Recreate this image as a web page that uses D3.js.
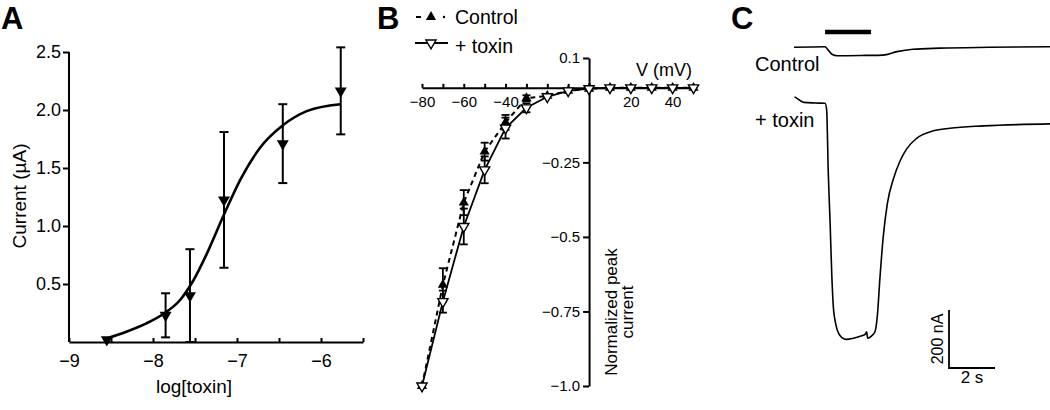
<!DOCTYPE html>
<html><head><meta charset="utf-8">
<script src="https://cdn.jsdelivr.net/npm/d3@7"></script>
<style>
body{margin:0;background:#fff;}
svg{display:block;font-family:"Liberation Sans",Arial,Helvetica,sans-serif;}
</style></head><body>
<svg id="fig" width="1050" height="410"></svg>
<script>
// ---------- Panel A data ----------
const aLogToxin = [-8.55, -7.85, -7.56, -7.155, -6.455, -5.765];
const aCurrent  = [0.02, 0.23, 0.40, 1.225, 1.71, 2.165];
const aSem      = [0, 0.19, 0.40, 0.585, 0.34, 0.375];
const aFitLog     = [-8.55, -8.31, -8.08, -7.86, -7.68, -7.52, -7.36, -7.16, -6.96, -6.73, -6.45, -6.17, -5.77];
const aFitCurrent = [0.03, 0.09, 0.16, 0.25, 0.36, 0.53, 0.76, 1.09, 1.40, 1.67, 1.87, 1.99, 2.05];
const aXTicks  = [-9, -8.5, -8, -7.5, -7, -6.5, -6, -5.5];
const aXLabels = [-9, -8, -7, -6];
const aYTicks  = [0.5, 1.0, 1.5, 2.0, 2.5];

// ---------- Panel B data ----------
const bVoltage    = [-80, -70, -60, -50, -40, -30, -20, -10, 0, 10, 20, 30, 40, 50];
const bControl    = [-1.0, -0.661, -0.385, -0.214, -0.116, -0.035, -0.027, -0.01, -0.003, 0, 0, 0, 0, 0];
const bControlSem = [0, 0.056, 0.042, 0.03, 0.025, 0.01, 0, 0, 0, 0, 0, 0, 0, 0];
const bToxin      = [-1.0, -0.717, -0.465, -0.275, -0.135, -0.067, -0.03, -0.01, -0.003, 0, 0, 0, 0, 0];
const bToxinSem   = [0, 0.037, 0.06, 0.045, 0.035, 0.015, 0, 0, 0, 0, 0, 0, 0, 0];
const bXTicks  = [-80, -70, -60, -50, -40, -30, -20, -10, 0, 10, 20, 30, 40, 50];
const bXLabels = [-80, -60, -40, 20, 40];
const bYTicks      = [0.1, -0.25, -0.5, -0.75, -1.0];
const bYTickLabels = ["0.1", "\u22120.25", "\u22120.5", "\u22120.75", "\u22121.0"];

// ---------- Panel C data (time s, current nA) ----------
const cControlT = [0, 1.35, 1.48, 1.65, 1.87, 3.09, 3.87, 4.48, 5.17, 6.35, 8.5, 11.13];
const cControlI = [-1, 1, -10, -25, -30, -29, -28, -16, -8, -4, -1, 1];
const cToxinT = [0.02, 0.13, 0.26, 0.43, 0.91, 1.35, 1.42, 1.49, 1.57, 1.64, 1.71, 1.78, 1.88, 2.07, 2.29, 2.58, 2.94, 3.09, 3.16, 3.20, 3.38, 3.52, 3.62, 3.74, 3.88, 4.06, 4.32, 4.61, 4.90, 5.33, 6.06, 6.78, 8.23, 11.13];
const cToxinI = [21, 16, 9, 2, 0, -1, -24, -241, -414, -586, -703, -748, -783, -808, -815, -811, -803, -798, -789, -811, -803, -789, -737, -599, -461, -346, -262, -200, -158, -122, -96, -87, -79, -72];
const cStim = [1.35, 3.35];
const cScaleCurrent = 200; // nA
const cScaleTime = 2;      // s

const svg = d3.select("#fig");
const FONT = "Liberation Sans, Arial, sans-serif";

function styleAxis(g, fs) {
  g.selectAll("path.domain").attr("stroke", "#000").attr("stroke-width", 2);
  g.selectAll(".tick line").attr("stroke", "#000").attr("stroke-width", 2);
  g.selectAll(".tick text").attr("fill", "#000").attr("font-size", fs).attr("font-family", FONT);
  g.attr("font-size", null).attr("font-family", null);
}

// Panel letters
[["A", 1, 29], ["B", 377, 29], ["C", 731, 29]].forEach(([t, x, y]) => {
  svg.append("text").attr("x", x).attr("y", y).attr("font-size", 31).attr("font-weight", "bold").text(t);
});

// ================= Panel A =================
const xA = d3.scaleLinear().domain([-9, -5.5]).range([69, 363]);
const yA = d3.scaleLinear().domain([0, 2.5]).range([342, 52]);
const gA = svg.append("g");

gA.append("g").attr("transform", `translate(0,${yA(0)})`)
  .call(d3.axisBottom(xA).tickValues(aXTicks).tickSizeInner(-4).tickSizeOuter(0).tickPadding(12)
    .tickFormat(d => aXLabels.includes(d) ? d3.format("d")(d) : ""))
  .call(g => styleAxis(g, 18));

gA.append("g").attr("transform", `translate(${xA(-9)},0)`)
  .call(d3.axisLeft(yA).tickValues(aYTicks).tickSizeInner(6).tickSizeOuter(0).tickPadding(2)
    .tickFormat(d3.format(".1f")))
  .call(g => styleAxis(g, 18))
  .call(g => g.select("path.domain").attr("d", `M0,${yA(0)}V${yA(2.5)}`));

gA.append("text").attr("x", 194).attr("y", 393).attr("text-anchor", "middle").attr("font-size", 19).text("log[toxin]");
gA.append("text").attr("transform", "translate(26,196) rotate(-90)").attr("text-anchor", "middle").attr("font-size", 19).text("Current (\u00b5A)");

const aFit = aFitLog.map((v, i) => [v, aFitCurrent[i]]);
gA.append("path").datum(aFit)
  .attr("d", d3.line().x(d => xA(d[0])).y(d => yA(d[1])).curve(d3.curveMonotoneX))
  .attr("fill", "none").attr("stroke", "#000").attr("stroke-width", 2.6);

aLogToxin.forEach((v, i) => {
  const x = xA(v), s = aSem[i];
  if (s > 0) {
    const y1 = yA(aCurrent[i] + s), y2 = yA(Math.max(0, aCurrent[i] - s));
    gA.append("line").attr("x1", x).attr("x2", x).attr("y1", y1).attr("y2", y2).attr("stroke", "#000").attr("stroke-width", 2);
    [y1, y2].forEach(y => gA.append("line").attr("x1", x - 4.5).attr("x2", x + 4.5).attr("y1", y).attr("y2", y).attr("stroke", "#000").attr("stroke-width", 2));
  }
});
gA.selectAll("path.mk").data(aLogToxin).join("path").attr("class", "mk")
  .attr("d", d3.symbol(d3.symbolTriangle, 62))
  .attr("transform", (d, i) => `translate(${xA(d)},${yA(aCurrent[i])}) rotate(180)`)
  .attr("fill", "#000");

// ================= Panel B =================
const xB = d3.scaleLinear().domain([-80, 50]).range([422, 693.5]);
const yB = d3.scaleLinear().domain([-1, 0.1]).range([386, 58]);
const gB = svg.append("g");

gB.append("g").attr("transform", `translate(0,${yB(0)})`)
  .call(d3.axisBottom(xB).tickValues(bXTicks).tickSizeInner(-4).tickSizeOuter(0).tickPadding(9)
    .tickFormat(d => bXLabels.includes(d) ? d3.format("d")(d) : ""))
  .call(g => styleAxis(g, 15));

gB.append("g").attr("transform", `translate(${xB(0)},0)`)
  .call(d3.axisLeft(yB).tickValues(bYTicks).tickSizeInner(6).tickSizeOuter(0).tickPadding(3)
    .tickFormat((d, i) => bYTickLabels[i]))
  .call(g => styleAxis(g, 15));

gB.append("text").attr("x", 664).attr("y", 76).attr("text-anchor", "middle").attr("font-size", 18).text("V (mV)");
const yl = gB.append("text").attr("transform", "translate(617,312) rotate(-90)").attr("text-anchor", "middle").attr("font-size", 17);
yl.append("tspan").attr("x", 0).attr("dy", 0).text("Normalized peak");
yl.append("tspan").attr("x", 0).attr("dy", 16).text("current");

const lineB = d3.line().x(d => xB(d[0])).y(d => yB(d[1]));
const ctrlPts = bVoltage.map((v, i) => [v, bControl[i]]);
const toxPts = bVoltage.map((v, i) => [v, bToxin[i]]);

function errBars(g, vals, sems) {
  bVoltage.forEach((v, i) => {
    const s = sems[i]; if (!(s > 0)) return;
    const x = xB(v), y1 = yB(vals[i] + s), y2 = yB(vals[i] - s);
    g.append("line").attr("x1", x).attr("x2", x).attr("y1", y1).attr("y2", y2).attr("stroke", "#000").attr("stroke-width", 1.8);
    [y1, y2].forEach(y => g.append("line").attr("x1", x - 4).attr("x2", x + 4).attr("y1", y).attr("y2", y).attr("stroke", "#000").attr("stroke-width", 1.8));
  });
}
errBars(gB, bControl, bControlSem);
errBars(gB, bToxin, bToxinSem);

gB.append("path").datum(ctrlPts).attr("d", lineB).attr("fill", "none").attr("stroke", "#000")
  .attr("stroke-width", 2).attr("stroke-dasharray", "5,4");
gB.append("path").datum(toxPts).attr("d", lineB).attr("fill", "none").attr("stroke", "#000").attr("stroke-width", 1.8);

gB.selectAll("path.ctrl").data(ctrlPts).join("path").attr("class", "ctrl")
  .attr("d", d3.symbol(d3.symbolTriangle, 45))
  .attr("transform", d => `translate(${xB(d[0])},${yB(d[1])})`).attr("fill", "#000");
gB.selectAll("path.tox").data(toxPts).join("path").attr("class", "tox")
  .attr("d", d3.symbol(d3.symbolTriangle, 45))
  .attr("transform", d => `translate(${xB(d[0])},${yB(d[1])}) rotate(180)`)
  .attr("fill", "#fff").attr("stroke", "#000").attr("stroke-width", 1.4);

// legend
const lg = gB.append("g");
lg.append("line").attr("x1", 416).attr("x2", 421).attr("y1", 17).attr("y2", 17).attr("stroke", "#000").attr("stroke-width", 2);
lg.append("path").attr("d", d3.symbol(d3.symbolTriangle, 45)).attr("transform", "translate(431,17)").attr("fill", "#000");
lg.append("circle").attr("cx", 444).attr("cy", 17).attr("r", 1.2).attr("fill", "#000");
lg.append("text").attr("x", 455).attr("y", 24).attr("font-size", 19.5).text("Control");
lg.append("line").attr("x1", 415).attr("x2", 448).attr("y1", 43).attr("y2", 43).attr("stroke", "#000").attr("stroke-width", 1.8);
lg.append("path").attr("d", d3.symbol(d3.symbolTriangle, 45)).attr("transform", "translate(431,43) rotate(180)")
  .attr("fill", "#fff").attr("stroke", "#000").attr("stroke-width", 1.4);
lg.append("text").attr("x", 455).attr("y", 53).attr("font-size", 19.5).text("+ toxin");

// ================= Panel C =================
const xC = d3.scaleLinear().domain([0, 11.13]).range([794, 1050]);
const yCtrl = d3.scaleLinear().domain([0, -200]).range([47, 105]);
const yTox = d3.scaleLinear().domain([0, -200]).range([103, 161]);
const gC = svg.append("g");

gC.append("line").attr("x1", xC(cStim[0])).attr("x2", xC(cStim[1])).attr("y1", 32).attr("y2", 32)
  .attr("stroke", "#000").attr("stroke-width", 4.5);

gC.append("path").datum(cControlT.map((t, i) => [t, cControlI[i]]))
  .attr("d", d3.line().x(d => xC(d[0])).y(d => yCtrl(d[1])).curve(d3.curveMonotoneX))
  .attr("fill", "none").attr("stroke", "#000").attr("stroke-width", 1.6);
gC.append("path").datum(cToxinT.map((t, i) => [t, cToxinI[i]]))
  .attr("d", d3.line().x(d => xC(d[0])).y(d => yTox(d[1])).curve(d3.curveMonotoneX))
  .attr("fill", "none").attr("stroke", "#000").attr("stroke-width", 1.6);

gC.append("text").attr("x", 755).attr("y", 71).attr("font-size", 20).text("Control");
gC.append("text").attr("x", 755).attr("y", 127).attr("font-size", 20).text("+ toxin");

// scale bar
const sbX = 949, sbY = 368;
const sbH = yTox(0) - yTox(-cScaleCurrent);
const sbW = xC(cScaleTime) - xC(0);
gC.append("path").attr("d", `M${sbX},${sbY + sbH}V${sbY}H${sbX + sbW}`)
  .attr("fill", "none").attr("stroke", "#000").attr("stroke-width", 1.8);
gC.append("text").attr("transform", `translate(943,${sbY + sbH / 2}) rotate(-90)`).attr("text-anchor", "middle").attr("font-size", 16).text("200 nA");
gC.append("text").attr("x", sbX + sbW / 2).attr("y", 383).attr("text-anchor", "middle").attr("font-size", 17).text("2 s");
</script>
</body></html>
